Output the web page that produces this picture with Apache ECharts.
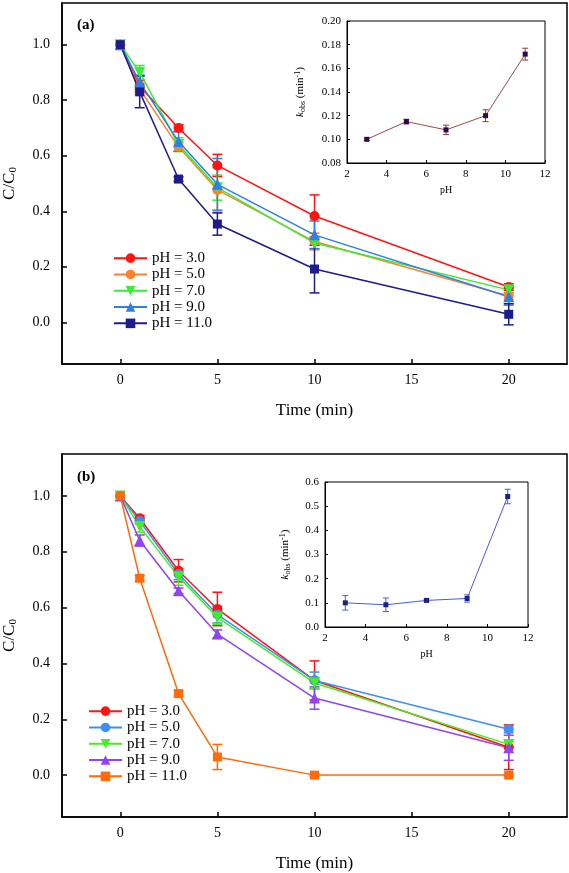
<!DOCTYPE html>
<html><head><meta charset="utf-8">
<script src="https://cdn.jsdelivr.net/npm/echarts@6/dist/echarts.min.js"></script>
<style>html,body{margin:0;padding:0;background:#fff}#c{width:569px;height:873px}</style>
</head><body><div id="c"></div>
<script>
// ---- data ----
const time = [0, 1, 3, 5, 10, 20];
const names = ['pH = 3.0', 'pH = 5.0', 'pH = 7.0', 'pH = 9.0', 'pH = 11.0'];

const a_pH3 = [1.0, 0.85, 0.70, 0.565, 0.383, 0.127];
const a_pH3_err = [0, 0.02, 0.012, 0.04, 0.076, 0.012];
const a_pH5 = [1.0, 0.84, 0.632, 0.477, 0.291, 0.095];
const a_pH5_err = [0, 0.02, 0.015, 0.08, 0.03, 0.012];
const a_pH7 = [1.0, 0.9, 0.64, 0.485, 0.286, 0.117];
const a_pH7_err = [0, 0.025, 0.025, 0.045, 0.02, 0.012];
const a_pH9 = [1.0, 0.865, 0.651, 0.497, 0.315, 0.092];
const a_pH9_err = [0, 0.025, 0.035, 0.093, 0.05, 0.03];
const a_pH11 = [1.0, 0.83, 0.516, 0.354, 0.192, 0.029];
const a_pH11_err = [0, 0.057, 0.008, 0.04, 0.086, 0.038];

const b_pH3 = [1.0, 0.92, 0.732, 0.595, 0.339, 0.10];
const b_pH3_err = [0, 0.01, 0.04, 0.06, 0.07, 0.08];
const b_pH5 = [1.0, 0.91, 0.72, 0.575, 0.339, 0.164];
const b_pH5_err = [0, 0.01, 0.02, 0.03, 0.03, 0.012];
const b_pH7 = [1.0, 0.89, 0.71, 0.565, 0.33, 0.11];
const b_pH7_err = [0, 0.02, 0.03, 0.025, 0.02, 0.01];
const b_pH9 = [1.0, 0.84, 0.66, 0.505, 0.276, 0.098];
const b_pH9_err = [0, 0.02, 0.01, 0.015, 0.04, 0.045];
const b_pH11 = [1.0, 0.705, 0.292, 0.065, 0.0, 0.0];
const b_pH11_err = [0, 0.01, 0.01, 0.045, 0.004, 0.004];

const insetPH = [3, 5, 7, 9, 11];
const insetA_k = [0.100, 0.115, 0.108, 0.120, 0.172];
const insetA_err = [0.001, 0.002, 0.004, 0.005, 0.005];
const insetB_k = [0.10, 0.092, 0.11, 0.118, 0.54];
const insetB_err = [0.03, 0.028, 0.005, 0.015, 0.03];

const mainTicks = [0, 5, 10, 15, 20];
const mainYTicks = [0, 0.2, 0.4, 0.6, 0.8, 1.0];

// ---- styling ----
const FONT = 'Liberation Serif';
const colorsA = ['#ff1414', '#ff7f2a', '#33f033', '#2f7fe6', '#1c1c8c'];
const colorsB = ['#ff1414', '#3d8ff0', '#44ee22', '#8f45f0', '#ff6a0a'];
const symbolsA = ['circle', 'circle', 'triangle', 'triangle', 'rect'];
const rotA = [0, 0, 180, 0, 0];
const sizes = [10, 10, 11, 11, 9];

const dataA = [a_pH3, a_pH5, a_pH7, a_pH9, a_pH11];
const errA = [a_pH3_err, a_pH5_err, a_pH7_err, a_pH9_err, a_pH11_err];
const dataB = [b_pH3, b_pH5, b_pH7, b_pH9, b_pH11];
const errB = [b_pH3_err, b_pH5_err, b_pH7_err, b_pH9_err, b_pH11_err];

function errBar(cap, color, lw) {
  return function (params, api) {
    const x = api.value(0), lo = api.value(1), hi = api.value(2);
    const p1 = api.coord([x, lo]), p2 = api.coord([x, hi]);
    const st = { stroke: color, lineWidth: lw };
    return { type: 'group', children: [
      { type: 'line', shape: { x1: p1[0], y1: p1[1], x2: p2[0], y2: p2[1] }, style: st },
      { type: 'line', shape: { x1: p1[0] - cap, y1: p1[1], x2: p1[0] + cap, y2: p1[1] }, style: st },
      { type: 'line', shape: { x1: p2[0] - cap, y1: p2[1], x2: p2[0] + cap, y2: p2[1] }, style: st }
    ]};
  };
}

const series = [];
function addMain(prefix, data, err, colors, idx) {
  data.forEach((vals, i) => {
    series.push({
      type: 'custom', xAxisIndex: idx, yAxisIndex: idx, silent: true, z: 2,
      renderItem: errBar(5, colors[i], 1.5),
      encode: { x: 0, y: [1, 2] },
      data: time.map((t, j) => [t, vals[j] - err[i][j], vals[j] + err[i][j]]).filter((d, j) => err[i][j] > 0)
    });
    series.push({
      name: prefix + names[i], type: 'line', xAxisIndex: idx, yAxisIndex: idx, z: 3,
      data: time.map((t, j) => [t, vals[j]]),
      symbol: symbolsA[i], symbolRotate: rotA[i], symbolSize: sizes[i],
      lineStyle: { color: colors[i], width: 1.5 },
      itemStyle: { color: colors[i] },
      animation: false
    });
  });
}
addMain('a|', dataA, errA, colorsA, 0);
addMain('b|', dataB, errB, colorsB, 2);

function addInset(k, err, idx, lineColor, markColor, errColor) {
  series.push({
    type: 'custom', xAxisIndex: idx, yAxisIndex: idx, silent: true,
    renderItem: errBar(3, errColor, 1),
    encode: { x: 0, y: [1, 2] },
    data: insetPH.map((p, j) => [p, k[j] - err[j], k[j] + err[j]])
  });
  series.push({
    type: 'line', xAxisIndex: idx, yAxisIndex: idx,
    data: insetPH.map((p, j) => [p, k[j]]),
    symbol: 'rect', symbolSize: 5,
    lineStyle: { color: lineColor, width: 1 },
    itemStyle: { color: markColor },
    animation: false
  });
}
addInset(insetA_k, insetA_err, 1, '#9a4a4a', '#2a0a4a', '#8b3a3a');
addInset(insetB_k, insetB_err, 3, '#4a5ae0', '#1a237e', '#4a5ae0');

function mainX() {
  return {
    type: 'value', min: -3, max: 23,
    name: 'Time (min)', nameLocation: 'middle', nameGap: 38,
    nameTextStyle: { fontFamily: FONT, fontSize: 17, color: '#000' },
    axisLine: { onZero: false, lineStyle: { color: '#000', width: 1.5 } },
    axisTick: { inside: true, length: 5, customValues: mainTicks, lineStyle: { color: '#000', width: 1.5 } },
    axisLabel: { customValues: mainTicks, margin: 9, fontFamily: FONT, fontSize: 14, color: '#000' },
    splitLine: { show: false }
  };
}
function mainY() {
  return {
    type: 'value', min: -0.15, max: 1.15,
    name: 'C/C{s|0}', nameLocation: 'middle', nameGap: 43, nameRotate: 90,
    nameTextStyle: { fontFamily: FONT, fontSize: 17, color: '#000',
      rich: { s: { fontFamily: FONT, fontSize: 11, color: '#000', verticalAlign: 'bottom', padding: [8, 0, 0, 0] } } },
    axisLine: { onZero: false, lineStyle: { color: '#000', width: 1.5 } },
    axisTick: { inside: true, length: 5, customValues: mainYTicks, lineStyle: { color: '#000', width: 1.5 } },
    axisLabel: { customValues: mainYTicks, margin: 12, fontFamily: FONT, fontSize: 14, color: '#000',
      formatter: v => v.toFixed(1) },
    splitLine: { show: false }
  };
}
function insetX(gap) {
  return {
    type: 'value', min: 2, max: 12, interval: 2,
    name: 'pH', nameLocation: 'middle', nameGap: gap,
    nameTextStyle: { fontFamily: FONT, fontSize: 10, color: '#000' },
    axisLine: { onZero: false, lineStyle: { color: '#000', width: 1 } },
    axisTick: { inside: true, length: 3, lineStyle: { color: '#000' } },
    axisLabel: { fontFamily: FONT, fontSize: 11, color: '#000', margin: 6 },
    splitLine: { show: false }
  };
}
function insetY(min, max, interval, dec, gap) {
  return {
    type: 'value', min: min, max: max, interval: interval,
    name: '{i|k}{s|obs} (min{p|-1})', nameLocation: 'middle', nameGap: gap, nameRotate: 90,
    nameTextStyle: { fontFamily: FONT, fontSize: 11, color: '#000',
      rich: {
        i: { fontFamily: FONT, fontSize: 11, fontStyle: 'italic', color: '#000' },
        s: { fontFamily: FONT, fontSize: 8, color: '#000', padding: [5, 0, 0, 0] },
        p: { fontFamily: FONT, fontSize: 8, color: '#000', padding: [0, 0, 5, 0] }
      } },
    axisLine: { onZero: false, lineStyle: { color: '#000', width: 1 } },
    axisTick: { inside: true, length: 3, lineStyle: { color: '#000' } },
    axisLabel: { fontFamily: FONT, fontSize: 11, color: '#000', margin: 6, formatter: v => v.toFixed(dec) },
    splitLine: { show: false }
  };
}

function legend(prefix, left, top) {
  return {
    left: left, top: top, orient: 'vertical', itemGap: 0,
    itemWidth: 33, itemHeight: 12,
    data: names.map(n => prefix + n),
    formatter: n => n.slice(2),
    textStyle: { fontFamily: FONT, fontSize: 15, color: '#000', lineHeight: 16.3, padding: [0, 0, 0, 0] },
    selectedMode: false
  };
}

const gridCommon = { show: true, borderColor: '#000', containLabel: false, outerBoundsMode: 'none' };
const option = {
  backgroundColor: '#fff',
  animation: false,
  title: [
    { text: '(a)', left: 72, top: 13, textStyle: { fontFamily: FONT, fontSize: 15, fontWeight: 'bold', color: '#000' } },
    { text: '(b)', left: 72, top: 465, textStyle: { fontFamily: FONT, fontSize: 15, fontWeight: 'bold', color: '#000' } }
  ],
  legend: [legend('a|', 108, 245), legend('b|', 83, 698)],
  grid: [
    Object.assign({ left: 62, top: 3, width: 505, height: 361, borderWidth: 1.5 }, gridCommon),
    Object.assign({ left: 347, top: 21, width: 198, height: 142, borderWidth: 1 }, gridCommon),
    Object.assign({ left: 62, top: 454, width: 505, height: 363, borderWidth: 1.5 }, gridCommon),
    Object.assign({ left: 325, top: 482, width: 203, height: 145, borderWidth: 1 }, gridCommon)
  ],
  xAxis: [
    Object.assign(mainX(), { gridIndex: 0 }),
    Object.assign(insetX(22), { gridIndex: 1 }),
    Object.assign(mainX(), { gridIndex: 2 }),
    Object.assign(insetX(22), { gridIndex: 3 })
  ],
  yAxis: [
    Object.assign(mainY(), { gridIndex: 0 }),
    Object.assign(insetY(0.08, 0.20, 0.02, 2, 40), { gridIndex: 1 }),
    Object.assign(mainY(), { gridIndex: 2 }),
    Object.assign(insetY(0, 0.6, 0.1, 1, 33), { gridIndex: 3 })
  ],
  series: series
};

const chart = echarts.init(document.getElementById('c'), null, { renderer: 'canvas' });
chart.setOption(option);
</script>
</body></html>
